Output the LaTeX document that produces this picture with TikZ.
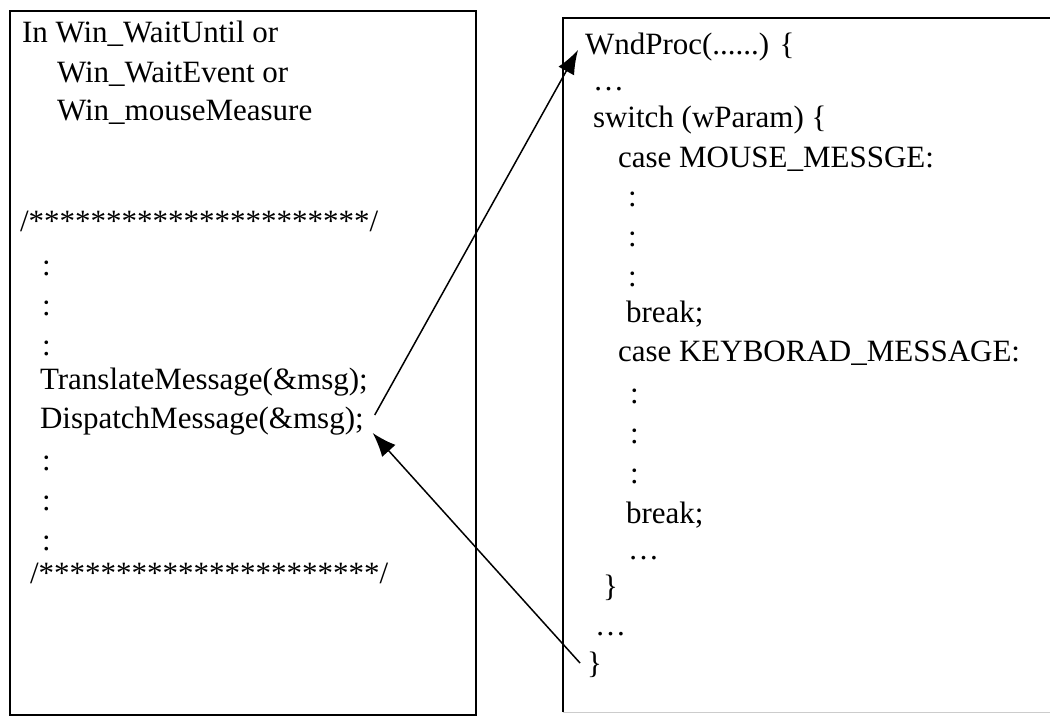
\documentclass[tikz,border=0pt]{standalone}
\usepackage{fontspec}
\setmainfont{Liberation Serif}
\usetikzlibrary{arrows.meta}
\newcommand\codesize{\fontsize{31}{38}\selectfont}
\tikzset{
  codeline/.style={anchor=base west, inner sep=0pt, outer sep=0pt, font=\codesize},
  frame/.style={line width=2.4pt, black},
  conn/.style={line width=1.5pt, -{Latex[length=24pt,width=18pt]}},
}
\begin{document}
\begin{tikzpicture}[x=1pt,y=-1pt]
  \useasboundingbox (0,0) rectangle (1050,717);
  \clip (0,0) rectangle (1050,717);
  \fill[white] (0,0) rectangle (1050,717);

  % caller side: the message loop
  \draw[frame] (10,11) rectangle (476,715);
  \node[codeline] (in1)   at (22,43)  {In Win\_WaitUntil or};
  \node[codeline] (in2)   at (57,82)  {Win\_WaitEvent or};
  \node[codeline] (in3)   at (57,120) {Win\_mouseMeasure};
  \node[codeline] (starA) at (20,231) {/**********************/};
  \node[codeline] (la1)   at (42,275) {:};
  \node[codeline] (la2)   at (42,315) {:};
  \node[codeline] (la3)   at (42,355) {:};
  \node[codeline] (trans) at (40,389) {TranslateMessage(\&msg);};
  \node[codeline] (disp)  at (40,428) {DispatchMessage(\&msg);};
  \node[codeline] (lb1)   at (42,470) {:};
  \node[codeline] (lb2)   at (42,510) {:};
  \node[codeline] (lb3)   at (42,550) {:};
  \node[codeline] (starB) at (30,583) {/**********************/};

  % callee side: the window procedure
  \draw[frame] (563,712) -- (563,18) -- (1060,18);
  \draw[gray!40, line width=1pt] (563,712) -- (1060,712);
  \node[codeline] (wnd)   at (585,55)  {WndProc(......) \{};
  \node[codeline] (dotA)  at (593,90)  {…};
  \node[codeline] (sw)    at (593,128) {switch (wParam) \{};
  \node[codeline] (cm)    at (618,167) {case MOUSE\_MESSGE:};
  \node[codeline] (ma1)   at (628,206) {:};
  \node[codeline] (ma2)   at (628,246) {:};
  \node[codeline] (ma3)   at (628,286) {:};
  \node[codeline] (brA)   at (626,322) {break;};
  \node[codeline] (ck)    at (618,361) {case KEYBORAD\_MESSAGE:};
  \node[codeline] (ka1)   at (630,403) {:};
  \node[codeline] (ka2)   at (630,443) {:};
  \node[codeline] (ka3)   at (630,483) {:};
  \node[codeline] (brB)   at (626,523) {break;};
  \node[codeline] (dotB)  at (628,559) {…};
  \node[codeline] (closeA) at (603,596) {\}};
  \node[codeline] (dotC)  at (595,635) {…};
  \node[codeline] (closeB) at (587,673) {\}};

  % dispatch into WndProc and return back to the loop
  \coordinate (sendFrom) at ([xshift=11pt,yshift=13pt]disp.base east);
  \coordinate (sendTo)   at ([xshift=-7pt,yshift=5pt]wnd.base west);
  \coordinate (retFrom)  at ([xshift=-7pt,yshift=10pt]closeB.base west);
  \coordinate (retTo)    at ([xshift=9pt,yshift=-5pt]disp.base east);
  \draw[conn] (sendFrom) -- (sendTo);
  \draw[conn] (retFrom) -- (retTo);
\end{tikzpicture}
\end{document}
